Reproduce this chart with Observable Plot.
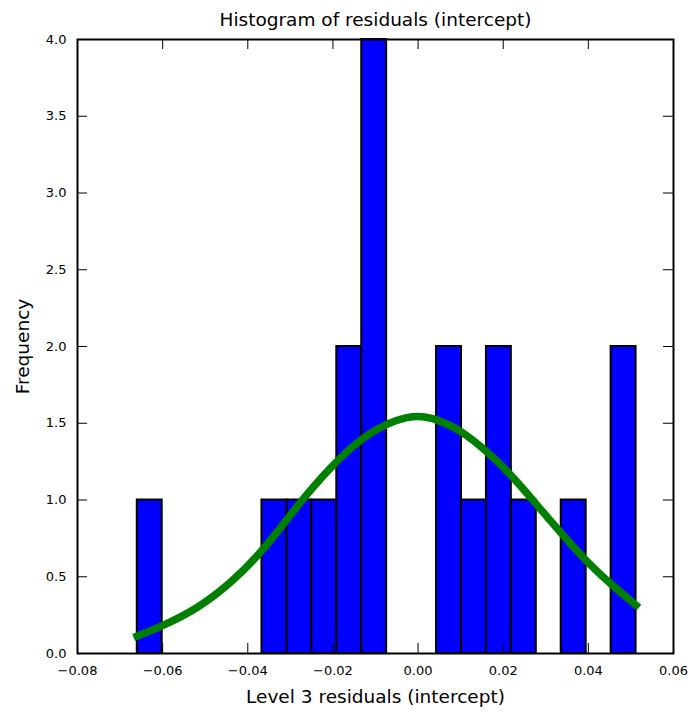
<!DOCTYPE html>
<html>
<head>
<meta charset="utf-8">
<script src="https://cdn.jsdelivr.net/npm/d3@7"></script>
<script src="https://cdn.jsdelivr.net/npm/@observablehq/plot@0.6"></script>
<style>
  html, body { margin: 0; padding: 0; background: #fff; color: #000; }
  #chart svg { display: block; }
</style>
</head>
<body>
<div id="chart"></div>
<script>
// Histogram bin edges (20 bins) and counts
const binEdges = [-0.06596, -0.06010, -0.05424, -0.04838, -0.04253, -0.03667, -0.03081, -0.02495, -0.01909, -0.01323,
                  -0.00738, -0.00152, 0.00434, 0.01020, 0.01606, 0.02191, 0.02777, 0.03363, 0.03949, 0.04535, 0.05121];
const binCounts = [1, 0, 0, 0, 0, 1, 1, 1, 2, 4, 0, 0, 2, 1, 2, 1, 0, 1, 0, 2];

// Fitted normal curve
const curveX = [-0.0660, -0.0598, -0.0519, -0.0441, -0.0363, -0.0284, -0.0206, -0.0128, -0.0049, 0.0000,
                0.0045, 0.0099, 0.0162, 0.0217, 0.0280, 0.0334, 0.0397, 0.0452, 0.0512];
const curveY = [0.113, 0.182, 0.291, 0.454, 0.671, 0.964, 1.215, 1.420, 1.528, 1.552,
                1.526, 1.458, 1.317, 1.170, 0.965, 0.790, 0.595, 0.453, 0.315];

// Tick labels
const xTicks = [-0.08, -0.06, -0.04, -0.02, 0.00, 0.02, 0.04, 0.06];
const yTicks = [0.0, 0.5, 1.0, 1.5, 2.0, 2.5, 3.0, 3.5, 4.0];

const titleText = "Histogram of residuals (intercept)";
const xLabelText = "Level 3 residuals (intercept)";
const yLabelText = "Frequency";

const bins = binCounts.map((c, i) => ({x1: binEdges[i], x2: binEdges[i + 1], count: c})).filter(d => d.count > 0);
const curve = curveX.map((x, i) => ({x, y: curveY[i]}));

const W = 688, H = 711;
const mt = 39, mr = 15, mb = 58, ml = 77;
const innerH = H - mt - mb;
const innerW = W - ml - mr;
const tickLen = 10;
const font = "DejaVu Sans";

const chart = Plot.plot({
  width: W,
  height: H,
  marginTop: mt, marginRight: mr, marginBottom: mb, marginLeft: ml,
  style: {fontFamily: font, color: "#000", background: "#fff"},
  x: {domain: [-0.08, 0.06], label: null},
  y: {domain: [0, 4], label: null},
  marks: [
    Plot.rectY(bins, {x1: "x1", x2: "x2", y1: 0, y2: "count", fill: "#0000ff", stroke: "#000", strokeWidth: 2}),
    // inward ticks, all four sides
    Plot.tickX(xTicks, {x: d => d, insetTop: innerH - tickLen, stroke: "#000", strokeWidth: 1}),
    Plot.tickX(xTicks, {x: d => d, insetBottom: innerH - tickLen, stroke: "#000", strokeWidth: 1}),
    Plot.tickY(yTicks, {y: d => d, insetRight: innerW - tickLen, stroke: "#000", strokeWidth: 1}),
    Plot.tickY(yTicks, {y: d => d, insetLeft: innerW - tickLen, stroke: "#000", strokeWidth: 1}),
    Plot.line(curve, {x: "x", y: "y", curve: "basis", stroke: "#008000", strokeWidth: 7.5, strokeLinecap: "square"}),
    Plot.frame({stroke: "#000", strokeWidth: 2}),
    Plot.axisX({ticks: xTicks, tickSize: 0, tickPadding: 12, tickFormat: d3.format(".2f"), fontSize: 13, label: null, fill: "#000"}),
    Plot.axisY({ticks: yTicks, tickSize: 0, tickPadding: 11, tickFormat: d3.format(".1f"), fontSize: 13, label: null, fill: "#000"}),
    Plot.text([titleText], {text: d => d, frameAnchor: "top", lineAnchor: "bottom", dy: -14, fontSize: 18.5, fill: "#000"}),
    Plot.text([xLabelText], {text: d => d, frameAnchor: "bottom", lineAnchor: "bottom", dy: 49, fontSize: 18.5, fill: "#000"}),
    Plot.text([yLabelText], {text: d => d, frameAnchor: "left", textAnchor: "middle", lineAnchor: "bottom", rotate: -90, dx: -49, fontSize: 18.5, fill: "#000"})
  ]
});
document.getElementById("chart").appendChild(chart);
</script>
</body>
</html>
